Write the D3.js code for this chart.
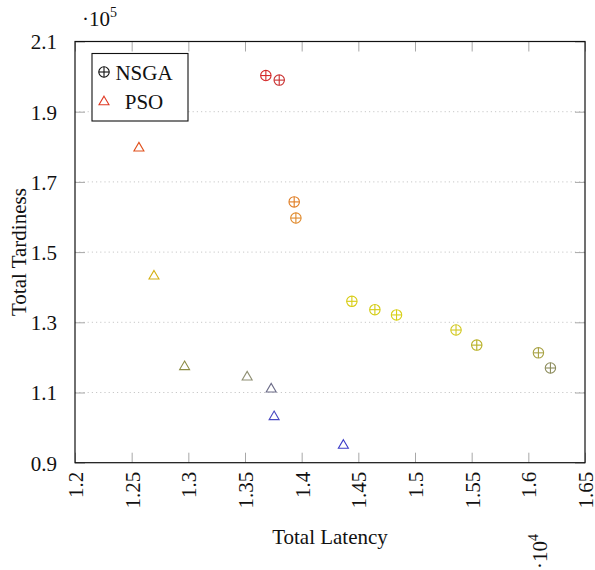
<!DOCTYPE html>
<html>
<head>
<meta charset="utf-8">
<script src="https://cdn.jsdelivr.net/npm/d3@7"></script>
<style>
  html, body { margin: 0; padding: 0; background: #fff; }
  svg { display: block; }
  text { font-family: "Liberation Serif", "Times New Roman", serif; fill: #111; }
</style>
</head>
<body>
<script>
// ---- data ----
const nsgaLatency   = [13684, 13802, 13934, 13949, 14443, 14646, 14837, 15362, 15545, 16089, 16195];
const nsgaTardiness = [200300, 199000, 164300, 159700, 135980, 133600, 132100, 127800, 123500, 121300, 116980];
const nsgaColors    = ["#d42a2a", "#c93030", "#e07c22", "#e08a2c", "#d8cc14", "#d4cc14", "#d8d018", "#d2c820", "#b8b024", "#a8a244", "#8c8c5c"];

const psoLatency    = [12564, 12697, 12967, 13519, 13731, 13757, 14368];
const psoTardiness  = [180030, 143560, 117750, 114790, 111370, 103500, 95330];
const psoColors     = ["#e0501c", "#d4b012", "#8c8c44", "#909074", "#6c6c88", "#4a4ac2", "#3c3cc8"];

const xTicks = [1.2, 1.25, 1.3, 1.35, 1.4, 1.45, 1.5, 1.55, 1.6, 1.65];
const yTicks = [0.9, 1.1, 1.3, 1.5, 1.7, 1.9, 2.1];
const legendLabels = ["NSGA", "PSO"];

// ---- layout ----
const W = 595, H = 570;
const L = 75, R = 585, T = 41.5, B = 462.7;
const FS = 21;

const svg = d3.select("body").append("svg").attr("width", W).attr("height", H);

const x = d3.scaleLinear().domain([12000, 16500]).range([L, R]);
const y = d3.scaleLinear().domain([90000, 210000]).range([B, T]);

// grid (dotted)
svg.append("g").selectAll("line").data(yTicks.slice(1, -1)).join("line")
  .attr("x1", L).attr("x2", R)
  .attr("y1", d => y(d * 1e5)).attr("y2", d => y(d * 1e5))
  .attr("stroke", "#c8c8c8").attr("stroke-width", 1)
  .attr("stroke-dasharray", "1.2 3");

// axes with inward ticks
const tickLen = 10;
const tickColor = "#a8a8a8";
const xAxisB = d3.axisBottom(x).tickValues(xTicks.map(d => d * 1e4)).tickSize(-tickLen).tickFormat(d => d3.format("")(+(d / 1e4).toFixed(2)));
const gxb = svg.append("g").attr("transform", `translate(0,${B})`).call(xAxisB);
gxb.select(".domain").remove();
gxb.selectAll(".tick line").attr("stroke", tickColor);
gxb.selectAll(".tick text")
  .attr("font-size", FS).attr("fill", "#111")
  .attr("text-anchor", "end")
  .attr("transform", "translate(0,9) rotate(-90)")
  .attr("x", 0).attr("y", 0).attr("dy", "0.35em");

const xAxisT = d3.axisTop(x).tickValues(xTicks.map(d => d * 1e4)).tickSize(-tickLen).tickFormat("");
const gxt = svg.append("g").attr("transform", `translate(0,${T})`).call(xAxisT);
gxt.select(".domain").remove();
gxt.selectAll(".tick line").attr("stroke", tickColor);

const yAxisL = d3.axisLeft(y).tickValues(yTicks.map(d => d * 1e5)).tickSize(-tickLen).tickPadding(18)
  .tickFormat(d => d3.format(".1f")(d / 1e5));
const gyl = svg.append("g").attr("transform", `translate(${L},0)`).call(yAxisL);
gyl.select(".domain").remove();
gyl.selectAll(".tick line").attr("stroke", tickColor);
gyl.selectAll(".tick text").attr("font-size", FS).attr("fill", "#111").attr("dy", "0.35em");

const yAxisR = d3.axisRight(y).tickValues(yTicks.map(d => d * 1e5)).tickSize(-tickLen).tickFormat("");
const gyr = svg.append("g").attr("transform", `translate(${R},0)`).call(yAxisR);
gyr.select(".domain").remove();
gyr.selectAll(".tick line").attr("stroke", tickColor);

// frame
svg.append("rect").attr("x", L).attr("y", T).attr("width", R - L).attr("height", B - T)
  .attr("fill", "none").attr("stroke", "#111").attr("stroke-width", 1.2);

// markers
function circlePlus(g, cx, cy, color) {
  const r = 5.2;
  g.append("circle").attr("cx", cx).attr("cy", cy).attr("r", r)
    .attr("fill", "none").attr("stroke", color).attr("stroke-width", 1.1);
  g.append("line").attr("x1", cx - r).attr("x2", cx + r).attr("y1", cy).attr("y2", cy)
    .attr("stroke", color).attr("stroke-width", 1.1);
  g.append("line").attr("x1", cx).attr("x2", cx).attr("y1", cy - r).attr("y2", cy + r)
    .attr("stroke", color).attr("stroke-width", 1.1);
}
function triangle(g, cx, cy, color) {
  const w = 5, h = 4.3;
  g.append("path")
    .attr("d", `M${cx},${cy - h}L${cx + w},${cy + h}L${cx - w},${cy + h}Z`)
    .attr("fill", "none").attr("stroke", color).attr("stroke-width", 1.1);
}

const gm = svg.append("g");
nsgaLatency.forEach((v, i) => circlePlus(gm, x(v), y(nsgaTardiness[i]), nsgaColors[i]));
psoLatency.forEach((v, i) => triangle(gm, x(v), y(psoTardiness[i]), psoColors[i]));

// legend
const lg = svg.append("g");
lg.append("rect").attr("x", 92).attr("y", 53.5).attr("width", 96).attr("height", 67.5)
  .attr("fill", "#fff").attr("stroke", "#111").attr("stroke-width", 1.1);
circlePlus(lg, 104, 72, "#111");
triangle(lg, 104, 100.5, "#e03a24");
lg.append("text").attr("x", 144).attr("y", 79.5).attr("text-anchor", "middle").attr("font-size", FS).text(legendLabels[0]);
lg.append("text").attr("x", 144).attr("y", 109).attr("text-anchor", "middle").attr("font-size", FS).text(legendLabels[1]);

// axis labels
svg.append("text").attr("x", (L + R) / 2 - 0).attr("y", 544).attr("text-anchor", "middle")
  .attr("font-size", FS).text("Total Latency");
svg.append("text").attr("transform", `translate(26,${(T + B) / 2}) rotate(-90)`)
  .attr("text-anchor", "middle").attr("font-size", FS).text("Total Tardiness");

// scale factors
const s5 = svg.append("text").attr("x", 82).attr("y", 26).attr("font-size", FS);
s5.append("tspan").text("·10");
s5.append("tspan").attr("font-size", 14).attr("dy", -9).text("5");

const s4 = svg.append("text").attr("transform", "translate(547,569) rotate(-90)").attr("font-size", FS);
s4.append("tspan").text("·10");
s4.append("tspan").attr("font-size", 14).attr("dy", -9).text("4");
</script>
</body>
</html>
